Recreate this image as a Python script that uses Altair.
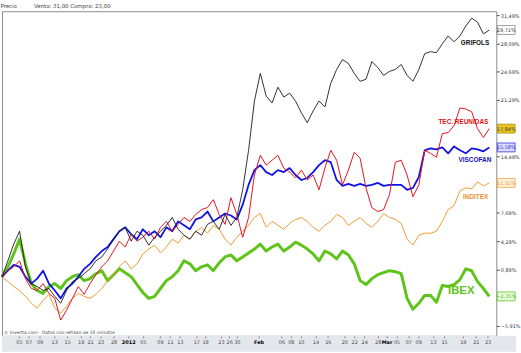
import altair as alt
import pandas as pd

# ---- data (percent change since start) ----
grifols = [0, 1.93, 3.94, 5.49, 1.21, -0.81, -1.16, -1.64, -1.40, -2.35,
           -3.18, -1.64, -0.57, -0.21, 0.38, 0.97, 1.93, 2.40, 3.35, 4.54,
           5.49, 5.96, 4.30, 5.49, 5.01, 3.82, 4.77, 5.49, 6.20, 7.15,
           5.73, 5.01, 4.54, 5.49, 5.01, 6.32, 6.68, 5.73, 7.51, 6.20,
           7.15, 10.48, 15.23, 21.16, 24.49, 21.76, 20.93, 22.83, 21.64, 22.11,
           21.16, 19.74, 18.55, 19.98, 21.16, 20.45, 23.30, 24.96, 26.15, 25.68,
           24.49, 23.54, 23.78, 25.91, 25.20, 24.25, 24.73, 24.96, 25.56, 24.25,
           23.54, 24.96, 26.86, 27.10, 26.98, 28.05, 29.00, 28.29, 29.00, 30.19,
           31.14, 30.66, 29.24, 29.71]
tec = [0, 0.74, 1.21, 1.93, -0.21, -1.40, -1.64, -0.81, -1.99, -2.59,
       -5.20, -4.01, -2.59, -1.16, -2.11, -0.81, 0.26, 1.21, 1.93, 3.11,
       4.30, 3.59, 5.13, 4.30, 4.77, 5.49, 4.54, 5.96, 6.68, 5.49,
       6.32, 7.15, 6.68, 7.51, 8.10, 8.34, 9.29, 7.51, 6.32, 9.53,
       7.51, 4.77, 7.15, 12.26, 14.63, 13.45, 14.04, 14.63, 13.09, 12.61,
       11.90, 12.85, 11.66, 12.26, 10.48, 13.09, 15.23, 14.04, 11.07, 12.85,
       14.99, 14.28, 10.71, 8.34, 7.86, 8.10, 9.88, 13.80, 14.04, 12.26,
       9.64, 11.07, 15.23, 14.87, 14.40, 17.25, 17.36, 18.20, 20.33, 20.21,
       19.86, 17.84, 16.77, 17.84]
viscofan = [0, 0.74, 1.45, 1.21, 0.02, -0.81, -0.21, 0.74, -0.81, -1.64,
            -2.59, -1.40, -0.81, 0.02, 0.97, 1.57, 2.40, 3.11, 3.59, 4.54,
            5.49, 5.96, 5.13, 4.54, 5.73, 5.01, 5.49, 4.77, 5.96, 5.49,
            6.68, 6.20, 5.73, 6.91, 7.15, 7.86, 6.68, 7.15, 7.63, 7.39,
            6.91, 8.69, 11.07, 12.85, 13.45, 12.61, 12.26, 12.85, 12.61, 13.09,
            12.26, 11.66, 11.90, 12.61, 13.45, 14.04, 13.80, 11.66, 10.95, 11.19,
            10.95, 11.19, 10.95, 11.07, 11.31, 10.95, 11.07, 11.07, 11.07, 10.48,
            10.71, 12.02, 15.23, 15.46, 15.35, 15.58, 14.87, 15.70, 15.23, 14.87,
            15.46, 15.35, 15.11, 15.58]
inditex = [0, -0.57, -1.16, -1.64, -2.35, -3.18, -3.78, -2.83, -2.11, -3.78,
           -4.37, -3.54, -2.59, -1.99, -2.35, -2.59, -2.11, -1.40, -0.45, 0.38,
           1.21, 1.93, 0.97, 1.57, 2.76, 3.35, 3.82, 2.88, 3.59, 4.54,
           4.06, 5.01, 4.54, 5.49, 5.96, 5.25, 6.20, 5.73, 4.54, 3.82,
           4.77, 5.49, 6.20, 7.15, 7.63, 5.96, 6.68, 6.20, 5.73, 6.44,
           6.91, 7.15, 6.68, 5.96, 5.49, 6.20, 6.68, 7.51, 7.15, 6.20,
           6.68, 7.15, 6.44, 5.96, 6.68, 7.63, 7.15, 6.91, 6.44, 4.54,
           3.82, 5.01, 5.25, 5.25, 5.49, 6.68, 8.10, 8.58, 10.36, 10.71,
           10.59, 11.43, 10.95, 11.31]
ibex = [0, 1.21, 2.76, 4.54, 1.57, -0.81, -1.64, -1.99, -1.16, -0.81,
        -1.40, -0.45, 0.02, 0.26, -0.45, -0.21, 0.38, 0.74, -0.45, 0.26,
        0.97, 0.50, 0.02, -0.93, -1.88, -2.59, -2.35, -1.40, -0.45, 0.02,
        0.74, 1.93, 1.57, 0.74, 1.21, 1.45, 0.74, 1.69, 2.40, 2.64,
        1.93, 2.40, 2.88, 3.35, 3.94, 3.11, 3.59, 3.94, 3.11, 3.59,
        4.18, 3.82, 3.35, 2.76, 1.93, 3.11, 2.76, 2.16, 3.11, 2.64,
        1.57, -0.45, -0.93, -0.21, 0.26, 0.50, 0.74, 0.62, 0.38, -2.59,
        -3.89, -3.18, -2.23, -2.23, -3.06, -1.04, -1.16, -0.93, -0.33, 0.97,
        0.74, -0.57, -1.40, -2.35]

series_names = ["IBEX", "INDITEX", "VISCOFAN", "TEC. REUNIDAS", "GRIFOLS"]
series_values = [ibex, inditex, viscofan, tec, grifols]

# x-axis tick positions (trading-session index) and their labels
tick_pos = [2.9, 4.5, 6.4, 8.9, 11.1, 13.4, 15.0, 16.8, 19.0, 21.5,
            24.0, 26.9, 28.6, 30.3, 33.1, 34.6, 37.3, 38.7, 40.0, 43.7,
            47.6, 49.2, 50.9, 53.4, 55.5, 58.3, 60.0, 61.7, 64.0, 65.5,
            67.2, 69.2, 70.9, 73.4, 75.3, 78.5, 80.7, 82.7]
tick_text = ["05", "07", "09", "13", "15", "19", "21", "23", "28", "2012",
             "05", "09", "11", "13", "17", "19", "23", "26", "30", "Feb",
             "06", "08", "10", "14", "16", "20", "22", "24", "28", "Mar",
             "05", "07", "09", "13", "15", "19", "21", "23"]
bold_ticks = ["2012", "Feb", "Mar"]

# right axis ticks (percent)
y_ticks = [-5.91, 0.89, 4.29, 7.69, 14.49, 21.29, 24.69, 28.09, 31.49]

# ---- styling ----
line_colors = ["#5ec41a", "#f29a2e", "#1212e6", "#e8101c", "#1a1a1a"]
line_widths = [3.0, 1.0, 1.8, 1.0, 0.9]
label_colors = ["#5ec41a", "#f09030", "#1010c0", "#e01010", "#111111"]
label_sizes = [11.5, 6.5, 6.5, 6.5, 6.5]
label_dx = [-15, -1, 2, -1, 0]
label_dy = [-5, 14, 13, -7, 13]
box_fill = ["#eaffdc", "#fff2dc", "#dcdcff", "#e8c420", "#ffffff"]
box_stroke = ["#60c020", "#f0a040", "#3030e0", "#b09000", "#888888"]
box_text = ["#50b010", "#e89030", "#2020d0", "#333333", "#333333"]

W, H = 501, 329
n = len(grifols)
rows = []
for name, vals in zip(series_names, series_values):
    for i, v in enumerate(vals):
        rows.append({"idx": i, "val": v, "serie": name})
df = pd.DataFrame(rows)
last = df[df["idx"] == n - 1]

pos_js = "[" + ",".join(str(p) for p in tick_pos) + "]"
txt_js = "[" + ",".join("'" + t + "'" for t in tick_text) + "]"
bold_pos = [p for p, t in zip(tick_pos, tick_text) if t in bold_ticks]
bold_test = "indexof([" + ",".join(str(p) for p in bold_pos) + "], datum.value) >= 0"

xscale = alt.Scale(domain=[0, 84.2], nice=False, zero=False)
yscale = alt.Scale(domain=[-7.10, 31.97], nice=False, zero=False)

x_axis = alt.Axis(values=tick_pos, labelExpr=txt_js + "[indexof(" + pos_js + ", datum.value)]",
                  title=None, grid=False, domain=False, tickSize=2, tickColor="#888",
                  labelFontSize=5, labelFont="DejaVu Sans", labelPadding=2,
                  labelOverlap=False, labelFlush=False, labelBound=False, labelSeparation=0,
                  zindex=1,
                  labelColor={"condition": {"test": bold_test, "value": "#000"}, "value": "#444"},
                  labelFontWeight={"condition": {"test": bold_test, "value": "bold"}, "value": "normal"})
y_axis = alt.Axis(orient="right", values=y_ticks,
                  labelExpr="replace(format(datum.value, '.2f'), '.', ',') + '%'",
                  title=None, grid=False, domain=False, tickSize=3, tickColor="#555",
                  labelFontSize=5, labelFont="DejaVu Sans", labelColor="#333",
                  labelPadding=1, labelOverlap=False, labelFlush=False, zindex=1)

X = alt.X("idx:Q", scale=xscale, axis=x_axis)
Y = alt.Y("val:Q", scale=yscale, axis=y_axis)

band = alt.Chart(pd.DataFrame({"a": [0]})).mark_rect(color="#e4e7ec").encode(
    x=alt.value(0), x2=alt.value(521), y=alt.value(H), y2=alt.value(H + 16))

layers = []
for k, name in enumerate(series_names):
    layers.append(alt.Chart(df[df["serie"] == name]).mark_line(
        strokeJoin="round", color=line_colors[k], strokeWidth=line_widths[k]).encode(
        x=X, y=Y, order=alt.Order("idx:Q")))

for k, name in enumerate(series_names):
    sub = alt.Chart(last[last["serie"] == name])
    font = "Liberation Sans Narrow, Liberation Sans, Arial Narrow" if k else "Liberation Sans, Arial"
    layers.append(sub.mark_text(align="right", baseline="middle", font=font, fontWeight="bold",
                                fontSize=label_sizes[k], color=label_colors[k],
                                dx=label_dx[k], dy=label_dy[k]).encode(
        x=X, y=Y, text=alt.value(name)))
    layers.append(sub.mark_rect(fill=box_fill[k], stroke=box_stroke[k], strokeWidth=0.8,
                                yOffset=-4.5, y2Offset=4.5).encode(
        x=alt.value(W + 1), x2=alt.value(W + 19), y=Y, y2="val:Q"))
    layers.append(sub.transform_calculate(
        lab="replace(format(datum.val, '.2f'), '.', ',') + '%'").mark_text(
        align="center", baseline="middle", fontSize=5, font="DejaVu Sans", color=box_text[k]).encode(
        x=alt.value(W + 10), y=Y, text="lab:N"))

caption = alt.Chart(pd.DataFrame({"a": [0]})).mark_text(
    align="left", baseline="bottom", fontSize=4.5, font="DejaVu Sans", color="#444").encode(
    x=alt.value(2), y=alt.value(H - 1),
    text=alt.value("© Invertia.com · Datos con retraso de 15 minutos"))
layers.append(caption)
layers.append(band)

nb = "\u00a0"
title_text = "Precio" + nb * 10 + "Venta: 31,00" + nb + "Compra: 23,00"

chart = alt.layer(*layers).properties(
    width=W, height=H,
    padding={"left": 0, "top": 1, "right": 0, "bottom": 0},
    background="white",
    title=alt.TitleParams(text=title_text, anchor="start",
                          fontSize=5.5, fontWeight="normal", color="#444",
                          font="DejaVu Sans", offset=2),
).configure_view(stroke="#8a8a8a", strokeWidth=1, fill="white")

chart.save("out.html", embed_options={"renderer": "svg", "actions": False})
